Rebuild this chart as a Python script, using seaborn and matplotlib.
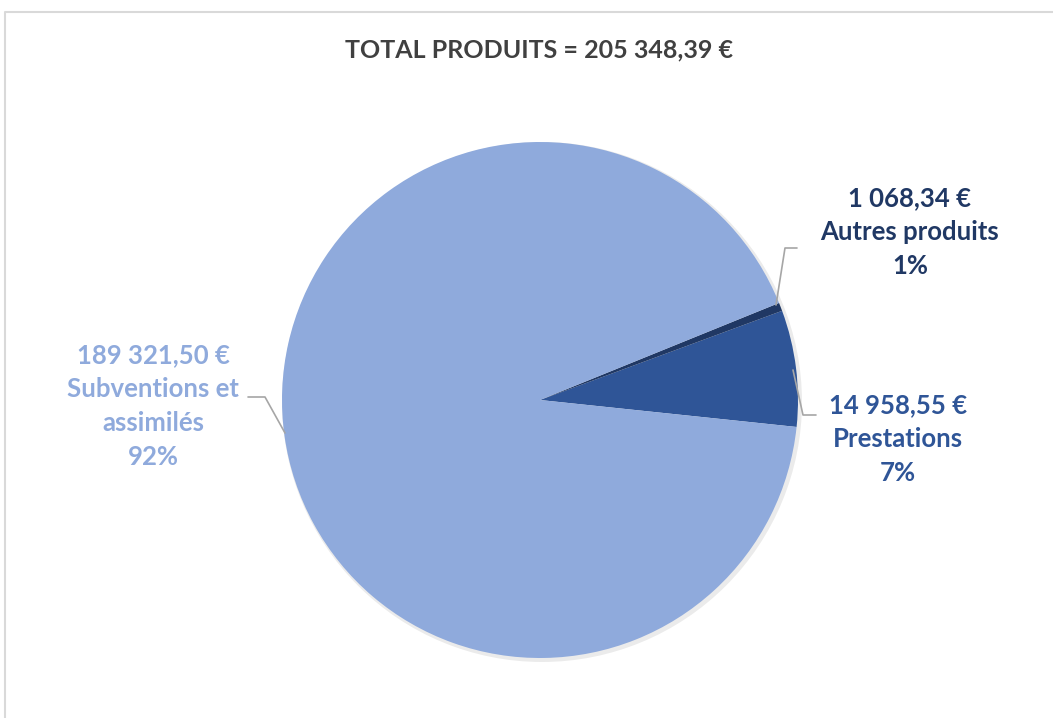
import matplotlib
matplotlib.use("Agg")
import matplotlib.pyplot as plt
import seaborn as sns

# data
categories = ["Prestations", "Autres produits", "Subventions et\nassimilés"]
amounts = [14958.55, 1068.34, 189321.50]
amount_labels = ["14 958,55 €", "1 068,34 €", "189 321,50 €"]
total_label = "TOTAL PRODUITS = 205 348,39 €"
colors = ["#2F5597", "#203864", "#8FAADC"]

sns.set_theme(style="white")
plt.rcParams['font.family'] = ['Lato', 'DejaVu Sans']

W, H = 1053, 718
fig = plt.figure(figsize=(W / 100, H / 100), dpi=100)
ax = fig.add_axes([0, 0, 1, 1])
ax.set_xlim(0, W)
ax.set_ylim(0, H)
ax.set_aspect("equal")
ax.axis("off")

def Y(y):
    return H - y

# chart frame
ax.plot([5, 5, W], [0, Y(12), Y(12)], color="#D9D9D9", lw=1.5, solid_capstyle="butt")

cx, cy, r = 540, 400, 258
# soft shadow
shadow = plt.Circle((cx + 2, Y(cy) - 2), r + 2, color="#000000", alpha=0.08, lw=0)
ax.add_patch(shadow)
ax.pie(amounts, colors=colors, startangle=-6, center=(cx, Y(cy)), radius=r,
       wedgeprops=dict(linewidth=0), frame=True)
ax.set_xlim(0, W)
ax.set_ylim(0, H)
ax.axis("off")

total = sum(amounts)
pcts = [f"{round(a / total * 100):.0f}%" for a in amounts]

ax.text(539, Y(50), total_label, ha="center", va="center", fontsize=18,
        fontweight="bold", color="#404040")

label_pos = [(898, 439), (910, 232), (153, 406)]
for cat, amt, pct, col, (lx, ly) in zip(categories, amount_labels, pcts, colors, label_pos):
    ax.text(lx, Y(ly), f"{amt}\n{cat}\n{pct}", ha="center", va="center",
            fontsize=18.5, fontweight="bold", color=col, linespacing=1.5)

# leader lines
lc = "#A6A6A6"
ax.plot([776, 785, 797], [Y(305), Y(248), Y(248)], color=lc, lw=1.2)
ax.plot([793, 803, 816], [Y(370), Y(415), Y(415)], color=lc, lw=1.2)
ax.plot([285, 265, 248], [Y(433), Y(397), Y(397)], color=lc, lw=1.2)

fig.savefig("out.png", dpi=100)
